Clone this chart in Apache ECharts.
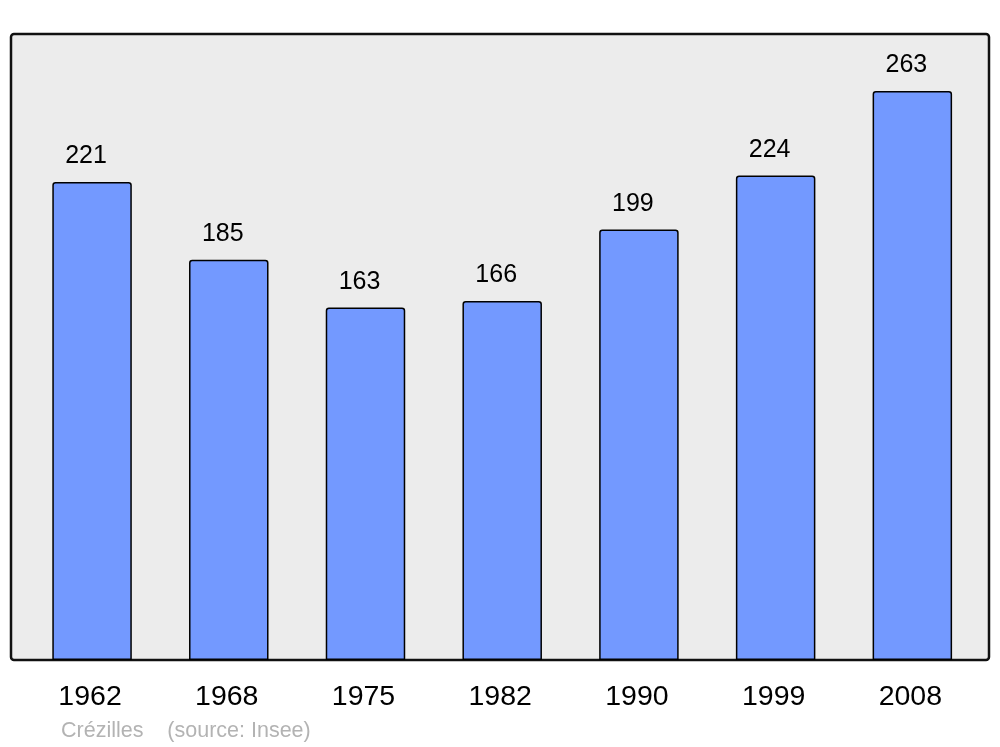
<!DOCTYPE html>
<html><head><meta charset="utf-8">
<script src="https://cdn.jsdelivr.net/npm/echarts@6/dist/echarts.min.js"></script>
<style>html,body{margin:0;padding:0;background:#fff}#c{width:1000px;height:747px}</style>
</head><body><div id="c"></div>
<script>
const years = ['1962','1968','1975','1982','1990','1999','2008'];
const population = [221,185,163,166,199,224,263];
const caption = 'Crézilles    (source: Insee)';

const chart = echarts.init(document.getElementById('c'), null, {renderer:'canvas'});
chart.setOption({
  animation:false,
  backgroundColor:'#ffffff',
  graphic:[
    {type:'rect', z:-10, shape:{x:11,y:34,width:978,height:626,r:3}, style:{fill:'#ececec', stroke:'#111', lineWidth:2.5}},
    {type:'text', left:61, top:720, style:{text:caption, fill:'#b3b3b3', font:'21.5px "Liberation Sans", Arial, sans-serif'}}
  ],
  grid:{left:23.7, right:19.3, top:34, bottom:87},
  xAxis:{type:'category', data:years, axisLine:{show:false}, axisTick:{show:false},
    axisLabel:{color:'#000', fontSize:28.5, fontFamily:'Liberation Sans', margin:23, padding:[0,4,0,0]}},
  yAxis:{type:'value', min:0, max:289.4, show:false, splitLine:{show:false}},
  series:[{type:'bar', data:population, barWidth:79.5,
    itemStyle:{color:'#7399ff', borderColor:'#000', borderWidth:1.5, borderRadius:[2.5,2.5,0,0]},
    label:{show:true, position:'top', distance:13, offset:[-6,0], color:'#000', fontSize:25, fontFamily:'Liberation Sans'}
  }]
});
</script></body></html>
